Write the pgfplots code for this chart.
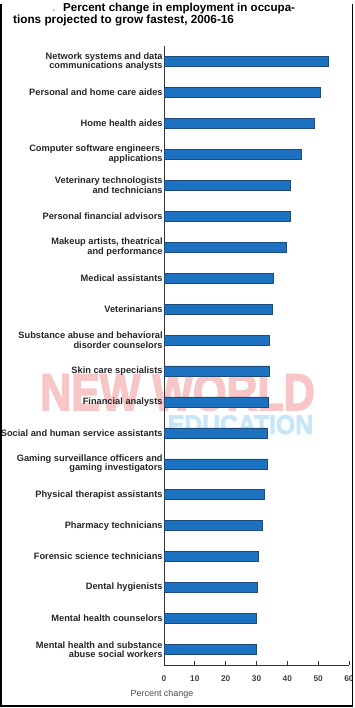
\documentclass[border=0pt]{standalone}
\usepackage{pgfplots}
\pgfplotsset{compat=1.18}
\usepackage{fontspec}
\setmainfont{Liberation Sans}
\newfontfamily\wmfont[BoldFeatures={FakeBold=3}]{Liberation Sans}
\definecolor{barblue}{RGB}{28,114,192}
\definecolor{baredge}{RGB}{30,75,120}
\definecolor{wmred}{RGB}{247,198,198}
\definecolor{wmblue}{RGB}{200,230,250}
\begin{document}
\begin{tikzpicture}[x=1bp,y=1bp]
\useasboundingbox (0,0) rectangle (354,708);
% watermark
\node[anchor=base, text=wmred, font=\wmfont\bfseries\fontsize{52}{52}\selectfont, inner sep=0pt] at (177.5,298) {\scalebox{0.83}[1]{NEW WORLD}};
\node[anchor=base, text=wmblue, font=\wmfont\bfseries\fontsize{27}{27}\selectfont, inner sep=0pt] at (240.5,274) {\scalebox{0.92}[1]{EDUCATION}};
% title
\node[anchor=base west, inner sep=0pt, text=black!30, font=\bfseries\fontsize{11.6}{12}\selectfont] at (52,696.5) {.};
\node[anchor=base west, inner sep=0pt, font=\bfseries\fontsize{11.6}{12}\selectfont] at (63,696.5) {Percent change in employment in occupa-};
\node[anchor=base west, inner sep=0pt, font=\bfseries\fontsize{11.8}{12}\selectfont] at (13,684) {tions projected to grow fastest, 2006-16};
\begin{axis}[
  at={(164bp,43bp)}, anchor=south west, scale only axis,
  width=185bp, height=619bp,
  xbar, bar width=10bp,
  xmin=0, xmax=60, ymin=0.5, ymax=20.5,
  axis x line*=bottom, axis y line*=left,
  xtick={0,10,...,60}, tick align=inside, major tick length=4bp,
  ytick={1,...,20},
  yticklabels={
    {Mental health and substance\\abuse social workers},
    {Mental health counselors},
    {Dental hygienists},
    {Forensic science technicians},
    {Pharmacy technicians},
    {Physical therapist assistants},
    {Gaming surveillance officers and\\gaming investigators},
    {Social and human service assistants},
    {Financial analysts},
    {Skin care specialists},
    {Substance abuse and behavioral\\disorder counselors},
    {Veterinarians},
    {Medical assistants},
    {Makeup artists, theatrical\\and performance},
    {Personal financial advisors},
    {Veterinary technologists\\and technicians},
    {Computer software engineers,\\applications},
    {Home health aides},
    {Personal and home care aides},
    {Network systems and data\\communications analysts}},
  ytick style={draw=none},
  xtick style={black!80, line width=0.8bp},
  yticklabel style={align=right, font=\bfseries\fontsize{9.3}{9.6}\selectfont, text=black!85, inner sep=1.2bp},
  xticklabel style={font=\bfseries\fontsize{8.3}{9}\selectfont, text=black!75, yshift=-7bp},
  /pgf/number format/assume math mode=true,
  axis line style={black!80, line width=0.8bp, -},
  clip=false,
]
\addplot[fill=barblue, draw=baredge, line width=0.6bp] coordinates {
  (29.9,1) (30.0,2) (30.1,3) (30.7,4) (32.0,5) (32.4,6) (33.6,7) (33.6,8)
  (33.8,9) (34.3,10) (34.3,11) (35.0,12) (35.4,13) (39.8,14) (41.0,15)
  (41.0,16) (44.6,17) (48.7,18) (50.6,19) (53.4,20)};
\end{axis}
\node[anchor=center, inner sep=0pt, text=black!70, font=\fontsize{9}{10}\selectfont] at (162,14) {Percent change};
\draw[black, line width=1.5bp] (1,704) -- (1,2) -- (352.5,2) -- (352.5,704);
\end{tikzpicture}
\end{document}
